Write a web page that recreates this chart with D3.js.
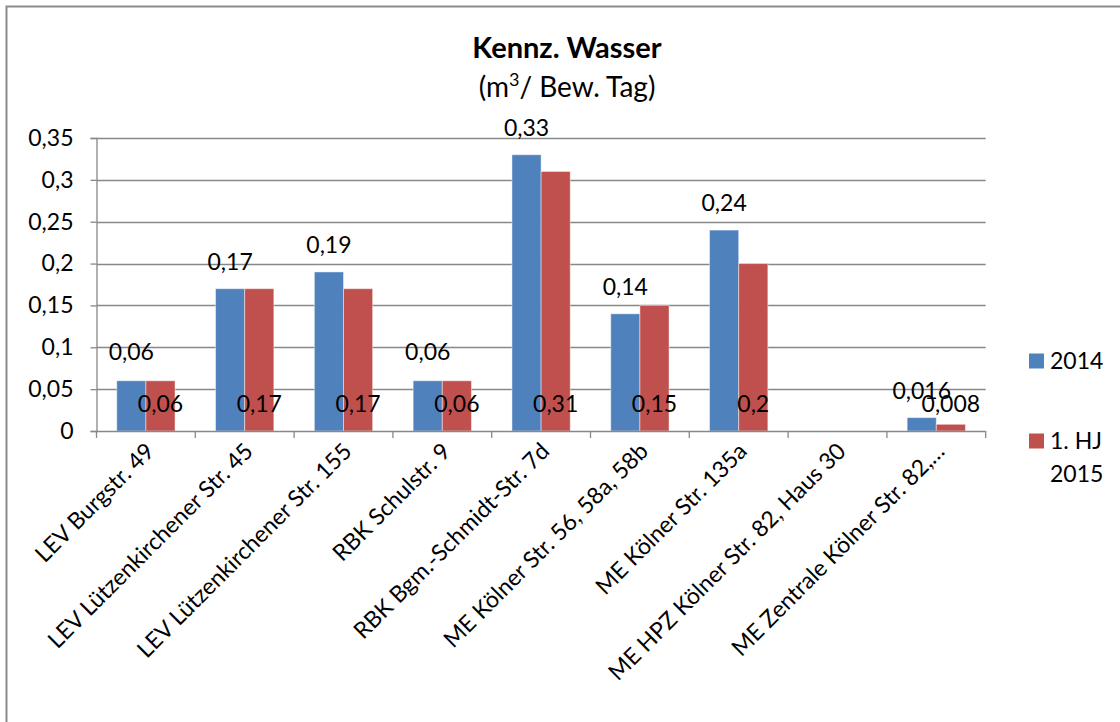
<!DOCTYPE html>
<html>
<head>
<meta charset="utf-8">
<script src="https://cdn.jsdelivr.net/npm/d3@7"></script>
<style>
  html, body { margin: 0; padding: 0; background: #fff; }
  svg { display: block; font-family: Lato, "Open Sans", sans-serif; }
</style>
</head>
<body>
<svg id="chart" width="1120" height="722"></svg>
<script>
// Sites and water consumption per resident and day (m³)
const categories = [
  "LEV Burgstr. 49",
  "LEV Lützenkirchener Str. 45",
  "LEV Lützenkirchener Str. 155",
  "RBK Schulstr. 9",
  "RBK Bgm.-Schmidt-Str. 7d",
  "ME Kölner Str. 56, 58a, 58b",
  "ME Kölner Str. 135a",
  "ME HPZ Kölner Str. 82, Haus 30",
  "ME Zentrale Kölner Str. 82,…"
];
const seriesNames = ["2014", "1. HJ 2015"];
const values2014 = [0.06, 0.17, 0.19, 0.06, 0.33, 0.14, 0.24, null, 0.016];
const values2015 = [0.06, 0.17, 0.17, 0.06, 0.31, 0.15, 0.2, null, 0.008];
const yTicks = [0, 0.05, 0.1, 0.15, 0.2, 0.25, 0.3, 0.35];
const yTickLabels = ["0", "0,05", "0,1", "0,15", "0,2", "0,25", "0,3", "0,35"];

const colors = ["#4F81BD", "#C0504D"];
const axisColor = "#888888";
const fs = 23;
const fmt = v => String(v).replace(".", ",");

const svg = d3.select("#chart");

// Outer chart frame
svg.append("rect")
  .attr("x", 6.5).attr("y", 6.5)
  .attr("width", 1130).attr("height", 740)
  .attr("fill", "none").attr("stroke", "#8c8c8c").attr("stroke-width", 2);

const plot = { left: 96.5, right: 985.7, top: 138, bottom: 431 };

const x = d3.scaleBand()
  .domain(categories)
  .range([plot.left, plot.right])
  .paddingInner(0.41).paddingOuter(0.205);
// Full category slots (for ticks and label placement)
const slot = d3.scaleBand().domain(categories).range([plot.left, plot.right]);
const y = d3.scaleLinear().domain([0, 0.35]).range([plot.bottom, plot.top]);
const xs = d3.scaleBand().domain(seriesNames).range([0, x.bandwidth()]);

// Gridlines
svg.append("g")
  .selectAll("line")
  .data(yTicks.slice(1))
  .join("line")
  .attr("x1", plot.left).attr("x2", plot.right)
  .attr("y1", d => Math.round(y(d)) + 0.5).attr("y2", d => Math.round(y(d)) + 0.5)
  .attr("stroke", axisColor).attr("stroke-width", 1.3);

// Y axis
const yAxis = d3.axisLeft(y)
  .tickValues(yTicks)
  .tickFormat((d, i) => yTickLabels[i])
  .tickSize(6).tickPadding(17);
const gy = svg.append("g")
  .attr("transform", `translate(${plot.left},0)`)
  .call(yAxis);
gy.select(".domain").attr("stroke", axisColor).attr("stroke-width", 1.3);
gy.selectAll(".tick line").attr("stroke", axisColor).attr("stroke-width", 1.3);
gy.selectAll(".tick text")
  .attr("font-size", fs).attr("fill", "#000")
  .attr("font-family", "Lato, sans-serif");

// Bars
const series = [values2014, values2015];
series.forEach((vals, si) => {
  svg.append("g")
    .selectAll("rect")
    .data(categories.map((c, i) => ({ c, v: vals[i] })).filter(d => d.v != null))
    .join("rect")
    .attr("x", d => x(d.c) + xs(seriesNames[si]))
    .attr("y", d => y(d.v))
    .attr("width", xs.bandwidth())
    .attr("height", d => y(0) - y(d.v))
    .attr("fill", colors[si])
    .attr("stroke", "rgba(255,255,255,0.45)")
    .attr("stroke-width", 1);
});

// X axis (category boundaries as ticks)
const gx = svg.append("g");
gx.append("line")
  .attr("x1", plot.left).attr("x2", plot.right)
  .attr("y1", plot.bottom + 0.5).attr("y2", plot.bottom + 0.5)
  .attr("stroke", axisColor).attr("stroke-width", 1.3);
const boundaries = categories.map(c => slot(c)).concat([plot.right]);
gx.selectAll(".tk")
  .data(boundaries)
  .join("line")
  .attr("class", "tk")
  .attr("x1", d => d).attr("x2", d => d)
  .attr("y1", plot.bottom).attr("y2", plot.bottom + 7)
  .attr("stroke", axisColor).attr("stroke-width", 1.3);

// Rotated category labels
gx.selectAll(".cat")
  .data(categories)
  .join("text")
  .attr("class", "cat")
  .attr("transform", d => `translate(${slot(d) + slot.bandwidth() / 2 + 4},${plot.bottom + 16}) rotate(-45)`)
  .attr("text-anchor", "end")
  .attr("dy", "0.35em")
  .attr("font-size", fs)
  .attr("fill", "#000")
  .text(d => d);

// Data labels: 2014 at outside end, 1. HJ 2015 at inside base
const labelLayer = svg.append("g").attr("font-size", fs).attr("fill", "#000").attr("text-anchor", "middle");
const redLabelY = y(0) - 27;
const liftedSites = new Set(["LEV Burgstr. 49", "RBK Schulstr. 9"]);
categories.forEach((c, i) => {
  const v1 = values2014[i];
  if (v1 != null) {
    let ly = y(v1) - 27;
    if (liftedSites.has(c)) ly = redLabelY - 52;
    labelLayer.append("text")
      .attr("x", x(c) + xs(seriesNames[0]) + xs.bandwidth() / 2)
      .attr("y", ly).attr("dy", "0.35em")
      .text(fmt(v1));
  }
  const v2 = values2015[i];
  if (v2 != null) {
    labelLayer.append("text")
      .attr("x", x(c) + xs(seriesNames[1]) + xs.bandwidth() / 2)
      .attr("y", redLabelY).attr("dy", "0.35em")
      .text(fmt(v2));
  }
});

// Title
const title = svg.append("g").attr("text-anchor", "middle").attr("fill", "#000");
title.append("text")
  .attr("x", 567).attr("y", 58)
  .attr("font-size", 29).attr("font-weight", "bold")
  .text("Kennz. Wasser");
const sub = title.append("text")
  .attr("x", 567).attr("y", 97)
  .attr("font-size", 28);
sub.append("tspan").text("(m");
sub.append("tspan").attr("font-size", 18).attr("dy", -11).text("3");
sub.append("tspan").attr("dy", 11).text("/ Bew. Tag)");

// Legend
const legend = svg.append("g").attr("font-size", fs).attr("fill", "#000");
const legendRows = [
  { lines: ["2014"], y: 361 },
  { lines: ["1. HJ", "2015"], y: 441 }
];
legendRows.forEach((r, i) => {
  legend.append("rect")
    .attr("x", 1029).attr("y", r.y - 7.5)
    .attr("width", 15).attr("height", 15)
    .attr("fill", colors[i]);
  r.lines.forEach((t, j) => {
    legend.append("text")
      .attr("x", 1050).attr("y", r.y + j * 33).attr("dy", "0.35em")
      .text(t);
  });
});
</script>
</body>
</html>
